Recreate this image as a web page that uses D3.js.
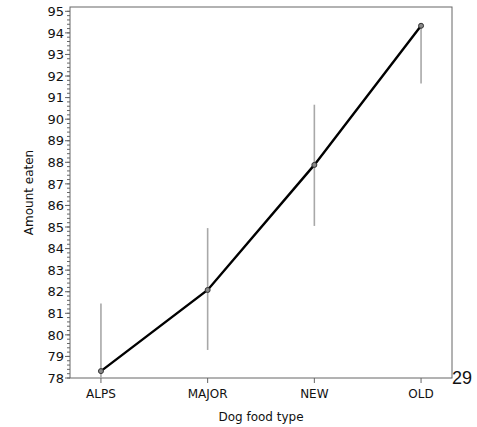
<!DOCTYPE html>
<meta charset="utf-8">
<style>
body { margin: 0; background: #fff; }
text { font-family: "DejaVu Sans", sans-serif; fill: #111; }
.frame { fill: none; stroke: #666; stroke-width: 1; }
.bar { stroke: #a8a8a8; stroke-width: 1.6; }
.mean { fill: none; stroke: #000; stroke-width: 2.4; }
.pt { fill: #888; stroke: #333; stroke-width: 1; }
</style>
<body>
<svg width="477" height="427"></svg>
<script src="https://cdn.jsdelivr.net/npm/d3@7"></script>
<script>
// data
var foods = ["ALPS", "MAJOR", "NEW", "OLD"];
var means = [78.32, 82.08, 87.88, 94.33];
var barLow = [78.0, 79.3, 85.05, 91.65];
var barHigh = [81.45, 84.95, 90.67, 94.33];
var yTicks = d3.range(78, 96, 1);

var margin = {top: 7, right: 25, bottom: 49, left: 70};
var svg = d3.select("svg");
var width = 477 - margin.left - margin.right;
var height = 427 - margin.top - margin.bottom;

var g = svg.append("g")
    .attr("transform", "translate(" + margin.left + "," + margin.top + ")");

var x = d3.scalePoint().domain(foods).range([0, width]).padding(0.29);
var y = d3.scaleLinear().domain([78, 95.2]).range([height, 0]);

// frame
g.append("rect").attr("class", "frame")
    .attr("x", 0).attr("y", 0).attr("width", width).attr("height", height);

// y axis: major + minor ticks
var minor = d3.range(78, 95.01, 0.2);
g.selectAll(".minor").data(minor).enter().append("line")
    .attr("x1", -3).attr("x2", 0)
    .attr("y1", d => y(d)).attr("y2", d => y(d))
    .attr("stroke", "#666");
g.selectAll(".major").data(yTicks).enter().append("line")
    .attr("x1", -5).attr("x2", 0)
    .attr("y1", d => y(d)).attr("y2", d => y(d))
    .attr("stroke", "#666");
g.selectAll(".ylab").data(yTicks).enter().append("text")
    .attr("x", -6).attr("y", d => y(d))
    .attr("dy", "0.36em")
    .attr("text-anchor", "end")
    .style("font-size", "13px")
    .text(d => d);

// x axis ticks + labels
g.selectAll(".xtick").data(foods).enter().append("line")
    .attr("x1", d => x(d)).attr("x2", d => x(d))
    .attr("y1", height).attr("y2", height + 5)
    .attr("stroke", "#666");
g.selectAll(".xlab").data(foods).enter().append("text")
    .attr("x", d => x(d)).attr("y", height + 20)
    .attr("text-anchor", "middle")
    .style("font-size", "12px")
    .text(d => d);

// axis titles
g.append("text")
    .attr("x", width / 2).attr("y", height + 43)
    .attr("text-anchor", "middle")
    .style("font-size", "12px")
    .text("Dog food type");
g.append("text")
    .attr("transform", "translate(-37," + (height / 2) + ") rotate(-90)")
    .attr("text-anchor", "middle")
    .style("font-size", "12px")
    .text("Amount eaten");

// error bars
g.selectAll(".bar").data(foods).enter().append("line")
    .attr("class", "bar")
    .attr("x1", d => x(d)).attr("x2", d => x(d))
    .attr("y1", (d, i) => y(barLow[i])).attr("y2", (d, i) => y(barHigh[i]));

// mean line
var line = d3.line()
    .x((d, i) => x(foods[i]))
    .y(d => y(d));
g.append("path").datum(means).attr("class", "mean").attr("d", line);

g.selectAll(".pt").data(means).enter().append("circle")
    .attr("class", "pt")
    .attr("cx", (d, i) => x(foods[i]))
    .attr("cy", d => y(d))
    .attr("r", 2.5);

// page number
svg.append("text")
    .attr("x", 452).attr("y", 384)
    .style("font-family", "Liberation Sans, Arial, sans-serif")
    .style("font-size", "18px")
    .text("29");
</script>
</body>
